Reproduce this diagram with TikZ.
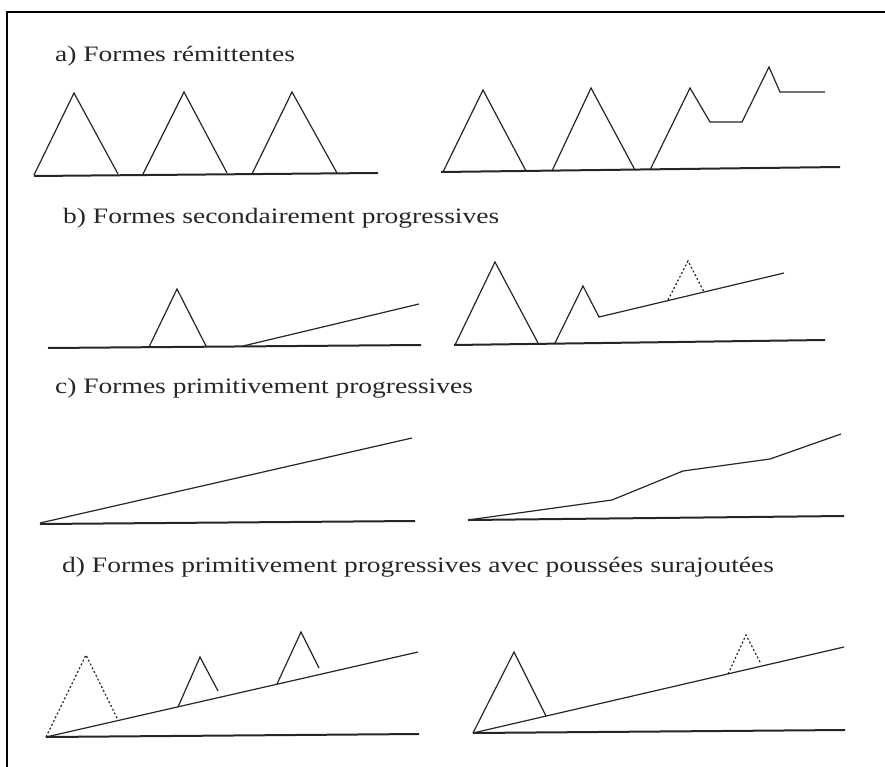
\documentclass[tikz,border=0pt]{standalone}
\usepackage{fontspec}
\setmainfont{Liberation Serif}
\newfontfamily\titlefont[FakeStretch=1.25]{Liberation Serif}
\begin{document}
\begin{tikzpicture}[x=1pt,y=-1pt,
  frameline/.style={line width=2pt, black},
  ground/.style={line width=2pt, black!85},
  curve/.style={line width=1.2pt, black!85, line join=miter},
  dotline/.style={curve, dash pattern=on 2pt off 2.2pt},
  title/.style={anchor=base west, inner sep=0pt, text=black!85,
    font=\titlefont\fontsize{22}{26}\selectfont}]
\useasboundingbox (0,0) rectangle (885,767);
% frame
\draw[frameline] (7,767) -- (7,12) -- (885,12);

% ---------- a) ----------
\node[title] (ta) at (55,62) {a) Formes rémittentes};
\draw[ground] (34,176) -- (378,173);
\draw[curve] (34,175) -- (74,93) -- (118,174);
\draw[curve] (143,174) -- (184,92) -- (227,173);
\draw[curve] (252,174) -- (292,92) -- (337,173);
\draw[ground] (441,172) -- (840,167);
\draw[curve] (443,172) -- (483,90) -- (526,171);
\draw[curve] (552,171) -- (591,88) -- (635,170);
\draw[curve] (650,170) -- (690,88) -- (710,122) -- (742,122) -- (769,67) -- (780,92) -- (825,92);

% ---------- b) ----------
\node[title] (tb) at (63,223) {b) Formes secondairement progressives};
\draw[ground] (48,348) -- (421,345);
\draw[curve] (149,347) -- (177,289) -- (206,346);
\draw[curve] (243,346) -- (419,304);
\draw[ground] (454,345) -- (825,340);
\draw[curve] (455,345) -- (495,262) -- (538,343);
\draw[curve] (555,343) -- (583,286) -- (599,317) -- (784,273);
\draw[dotline] (668,300) -- (688,261) -- (704,292);

% ---------- c) ----------
\node[title] (tc) at (55,393) {c) Formes primitivement progressives};
\draw[ground] (40,524) -- (415,521);
\draw[curve] (40,523) -- (412,438);
\draw[ground] (468,520) -- (844,516);
\draw[curve] (468,520) -- (612,500) -- (683,471) -- (770,459) -- (841,434);

% ---------- d) ----------
\node[title] (td) at (62,572) {d) Formes primitivement progressives avec poussées surajoutées};
\draw[ground] (46,737) -- (419,734);
\draw[curve] (46,737) -- (418,652);
\draw[dotline] (46,737) -- (86,655) -- (118,720);
\draw[curve] (178,707) -- (200,657) -- (218,691);
\draw[curve] (277,684) -- (301,632) -- (319,668);
\draw[ground] (473,733) -- (845,730);
\draw[curve] (473,733) -- (844,647);
\draw[curve] (473,733) -- (514,652) -- (546,716);
\draw[dotline] (728,674) -- (746,635) -- (761,664);
\end{tikzpicture}
\end{document}
